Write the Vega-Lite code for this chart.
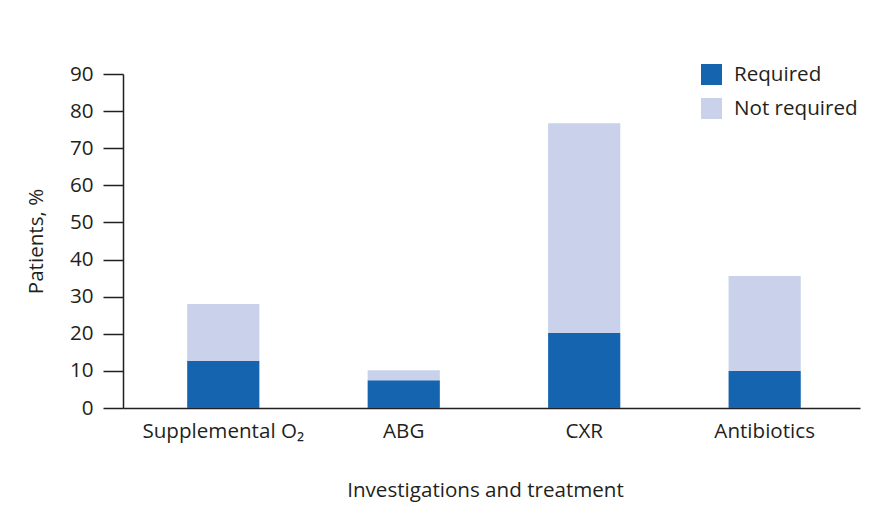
{
  "$schema": "https://vega.github.io/schema/vega-lite/v6.json",
  "autosize": "none",
  "width": 737,
  "height": 334,
  "padding": {"left": 123, "top": 74, "right": 21, "bottom": 120},
  "background": "white",
  "data": {
    "values": [
      {"item": "Supplemental O₂", "status": "Required", "pct": 12.7},
      {"item": "Supplemental O₂", "status": "Not required", "pct": 15.3},
      {"item": "ABG", "status": "Required", "pct": 7.5},
      {"item": "ABG", "status": "Not required", "pct": 2.7},
      {"item": "CXR", "status": "Required", "pct": 20.2},
      {"item": "CXR", "status": "Not required", "pct": 56.5},
      {"item": "Antibiotics", "status": "Required", "pct": 10.0},
      {"item": "Antibiotics", "status": "Not required", "pct": 25.6}
    ]
  },
  "mark": {"type": "bar"},
  "encoding": {
    "x": {
      "field": "item",
      "type": "nominal",
      "sort": ["Supplemental O₂", "ABG", "CXR", "Antibiotics"],
      "scale": {"paddingInner": 0.6, "paddingOuter": 0.342, "align": 0.52},
      "axis": {
        "title": "Investigations and treatment",
        "labelAngle": 0,
        "ticks": false,
        "labelPadding": 13,
        "titlePadding": 39,
        "titleX": 362,
        "domainColor": "#231F20",
        "domainWidth": 1.5
      }
    },
    "y": {
      "field": "pct",
      "type": "quantitative",
      "stack": "zero",
      "scale": {"domain": [0, 90], "nice": false},
      "axis": {
        "title": "Patients, %",
        "values": [0, 10, 20, 30, 40, 50, 60, 70, 80, 90],
        "grid": false,
        "tickSize": 20,
        "tickColor": "#231F20",
        "tickWidth": 1.5,
        "domainColor": "#231F20",
        "domainWidth": 1.5,
        "labelPadding": 10,
        "titlePadding": 23
      }
    },
    "color": {
      "field": "status",
      "type": "nominal",
      "scale": {"domain": ["Required", "Not required"], "range": ["#1464AF", "#C9D2EA"]},
      "legend": {
        "title": null,
        "orient": "none",
        "legendX": 578,
        "legendY": -10,
        "symbolType": "square",
        "symbolSize": 441,
        "symbolStrokeWidth": 0,
        "symbolOpacity": 1,
        "labelFontSize": 20.6,
        "labelColor": "#231F20",
        "labelOffset": 12,
        "rowPadding": 12,
        "padding": 0
      }
    },
    "order": {"field": "status", "sort": "descending"}
  },
  "config": {
    "font": "Open Sans",
    "view": {"stroke": null},
    "axis": {
      "labelFontSize": 20.6,
      "titleFontSize": 20.6,
      "labelColor": "#231F20",
      "titleColor": "#231F20",
      "titleFontWeight": "normal",
      "labelFont": "Open Sans",
      "titleFont": "Open Sans"
    },
    "legend": {"labelFont": "Open Sans"}
  }
}
